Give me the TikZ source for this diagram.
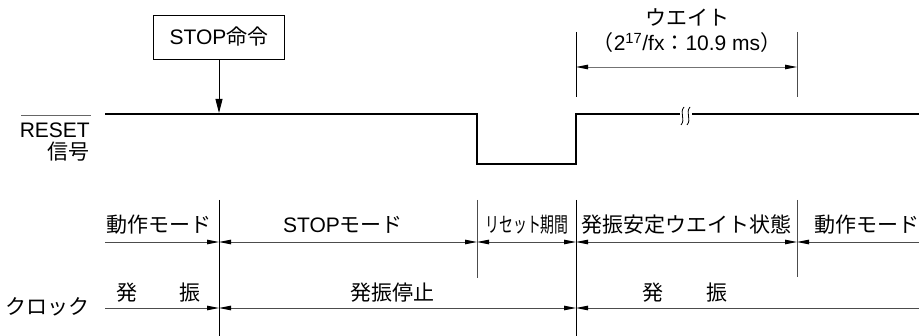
\documentclass[tikz,border=0pt]{standalone}
\usepackage{fontspec}
\setmainfont{Liberation Sans}
\newfontfamily\jp{Noto Sans CJK JP}
\usetikzlibrary{arrows.meta}
\begin{document}
\begin{tikzpicture}[x=1pt,y=-1pt,
  lbl/.style={inner sep=0pt,font=\fontsize{21}{25}\selectfont},
  sigline/.style={line width=2.5pt,line join=miter},
  vline/.style={line width=0.9pt},
  hline/.style={line width=0.9pt,draw=black!70},
  rarr/.style={-{Triangle[length=12pt,width=4.5pt,black]}},
  larr/.style={{Triangle[length=12pt,width=4.5pt,black]}-},
  darr/.style={{Triangle[length=12pt,width=4.5pt,black]}-{Triangle[length=12pt,width=4.5pt,black]}}
]
\useasboundingbox (0,0) rectangle (919,336);

% RESET signal
\coordinate (r0) at (105,114);
\coordinate (r1) at (477,114);
\coordinate (r2) at (477,164);
\coordinate (r3) at (576,164);
\coordinate (r4) at (576,114);
\coordinate (r5) at (919,114);
\draw[sigline] (r0) -- (r1) -- (r2) -- (r3) -- (r4) -- (r5);

% break mark
\fill[white] (680,109) rectangle (692,119);
\draw[line width=0.8pt] (684,107) .. controls (679,113) and (686,119) .. (681,125);
\draw[line width=0.8pt] (690,107) .. controls (685,113) and (692,119) .. (687,125);

% STOP box
\node[lbl,draw,line width=0.9pt,minimum width=131pt,minimum height=44pt] (stop) at (219,37) {STOP{\jp 命令}};
\coordinate (sa) at (219,113);
\draw[vline,-{Triangle[length=14pt,width=7pt]}] (stop.south) -- (sa);

% RESET label
\node[lbl,anchor=east] (reset) at (90,130) {RESET};
\coordinate (ol1) at (21,115);
\coordinate (ol2) at (91,115);
\draw[line width=0.9pt,black!60] (ol1) -- (ol2);
\node[lbl,anchor=east] (shingo) at (90,152) {\jp 信号};

% wait dimension
\coordinate (w1t) at (576,32);
\coordinate (w1b) at (576,97);
\coordinate (w2t) at (797,32);
\coordinate (w2b) at (797,97);
\draw[vline] (w1t) -- (w1b);
\draw[vline,black!70] (w2t) -- (w2b);
\coordinate (wa1) at (576,67);
\coordinate (wa2) at (797,67);
\draw[hline,black!55,darr] (wa1) -- (wa2);
\node[lbl] (wtxt) at (687,17) {\jp ウエイト};
\node[lbl] (wval) at (687,43) {{\jp （}2\textsuperscript{17}/fx{\jp ：}10.9 ms{\jp ）}};

% bottom vertical lines
\coordinate (v1t) at (219,200); \coordinate (v1b) at (219,336);
\coordinate (v2t) at (477,200); \coordinate (v2b) at (477,278);
\coordinate (v3t) at (576,200); \coordinate (v3b) at (576,336);
\coordinate (v4t) at (797,200); \coordinate (v4b) at (797,277);
\draw[vline] (v1t) -- (v1b);
\draw[vline,black!70] (v2t) -- (v2b);
\draw[vline] (v3t) -- (v3b);
\draw[vline,black!70] (v4t) -- (v4b);

% mode line
\coordinate (m0) at (105,242);
\coordinate (m1) at (219,242);
\coordinate (m2) at (477,242);
\coordinate (m3) at (576,242);
\coordinate (m4) at (797,242);
\coordinate (m5) at (919,242);
\draw[hline,rarr] (m0) -- (m1);
\draw[hline,darr] (m1) -- (m2);
\draw[hline,darr] (m2) -- (m3);
\draw[hline,darr] (m3) -- (m4);
\draw[hline,larr] (m4) -- (m5);

% clock line
\coordinate (c0) at (105,308);
\coordinate (c1) at (219,308);
\coordinate (c3) at (576,308);
\coordinate (c5) at (919,308);
\draw[hline,rarr] (c0) -- (c1);
\draw[hline,darr] (c1) -- (c3);
\draw[hline,larr] (c3) -- (c5);

% mode labels
\node[lbl] (md1) at (159,225) {\jp 動作モード};
\node[lbl] (md2) at (343,225) {STOP{\jp モード}};
\node[lbl] (md3) at (527,225) {\scalebox{0.66}[1]{\jp リセット期間}};
\node[lbl] (md4) at (686,225) {\jp 発振安定ウエイト状態};
\node[lbl] (md5) at (867,225) {\jp 動作モード};

% clock labels
\node[lbl] (k1a) at (127,293) {\jp 発};
\node[lbl] (k1b) at (190,293) {\jp 振};
\node[lbl] (k2) at (392,293) {\jp 発振停止};
\node[lbl] (k3a) at (653,293) {\jp 発};
\node[lbl] (k3b) at (717,293) {\jp 振};
\node[lbl,anchor=east] (clk) at (90,307) {\jp クロック};
\end{tikzpicture}
\end{document}
